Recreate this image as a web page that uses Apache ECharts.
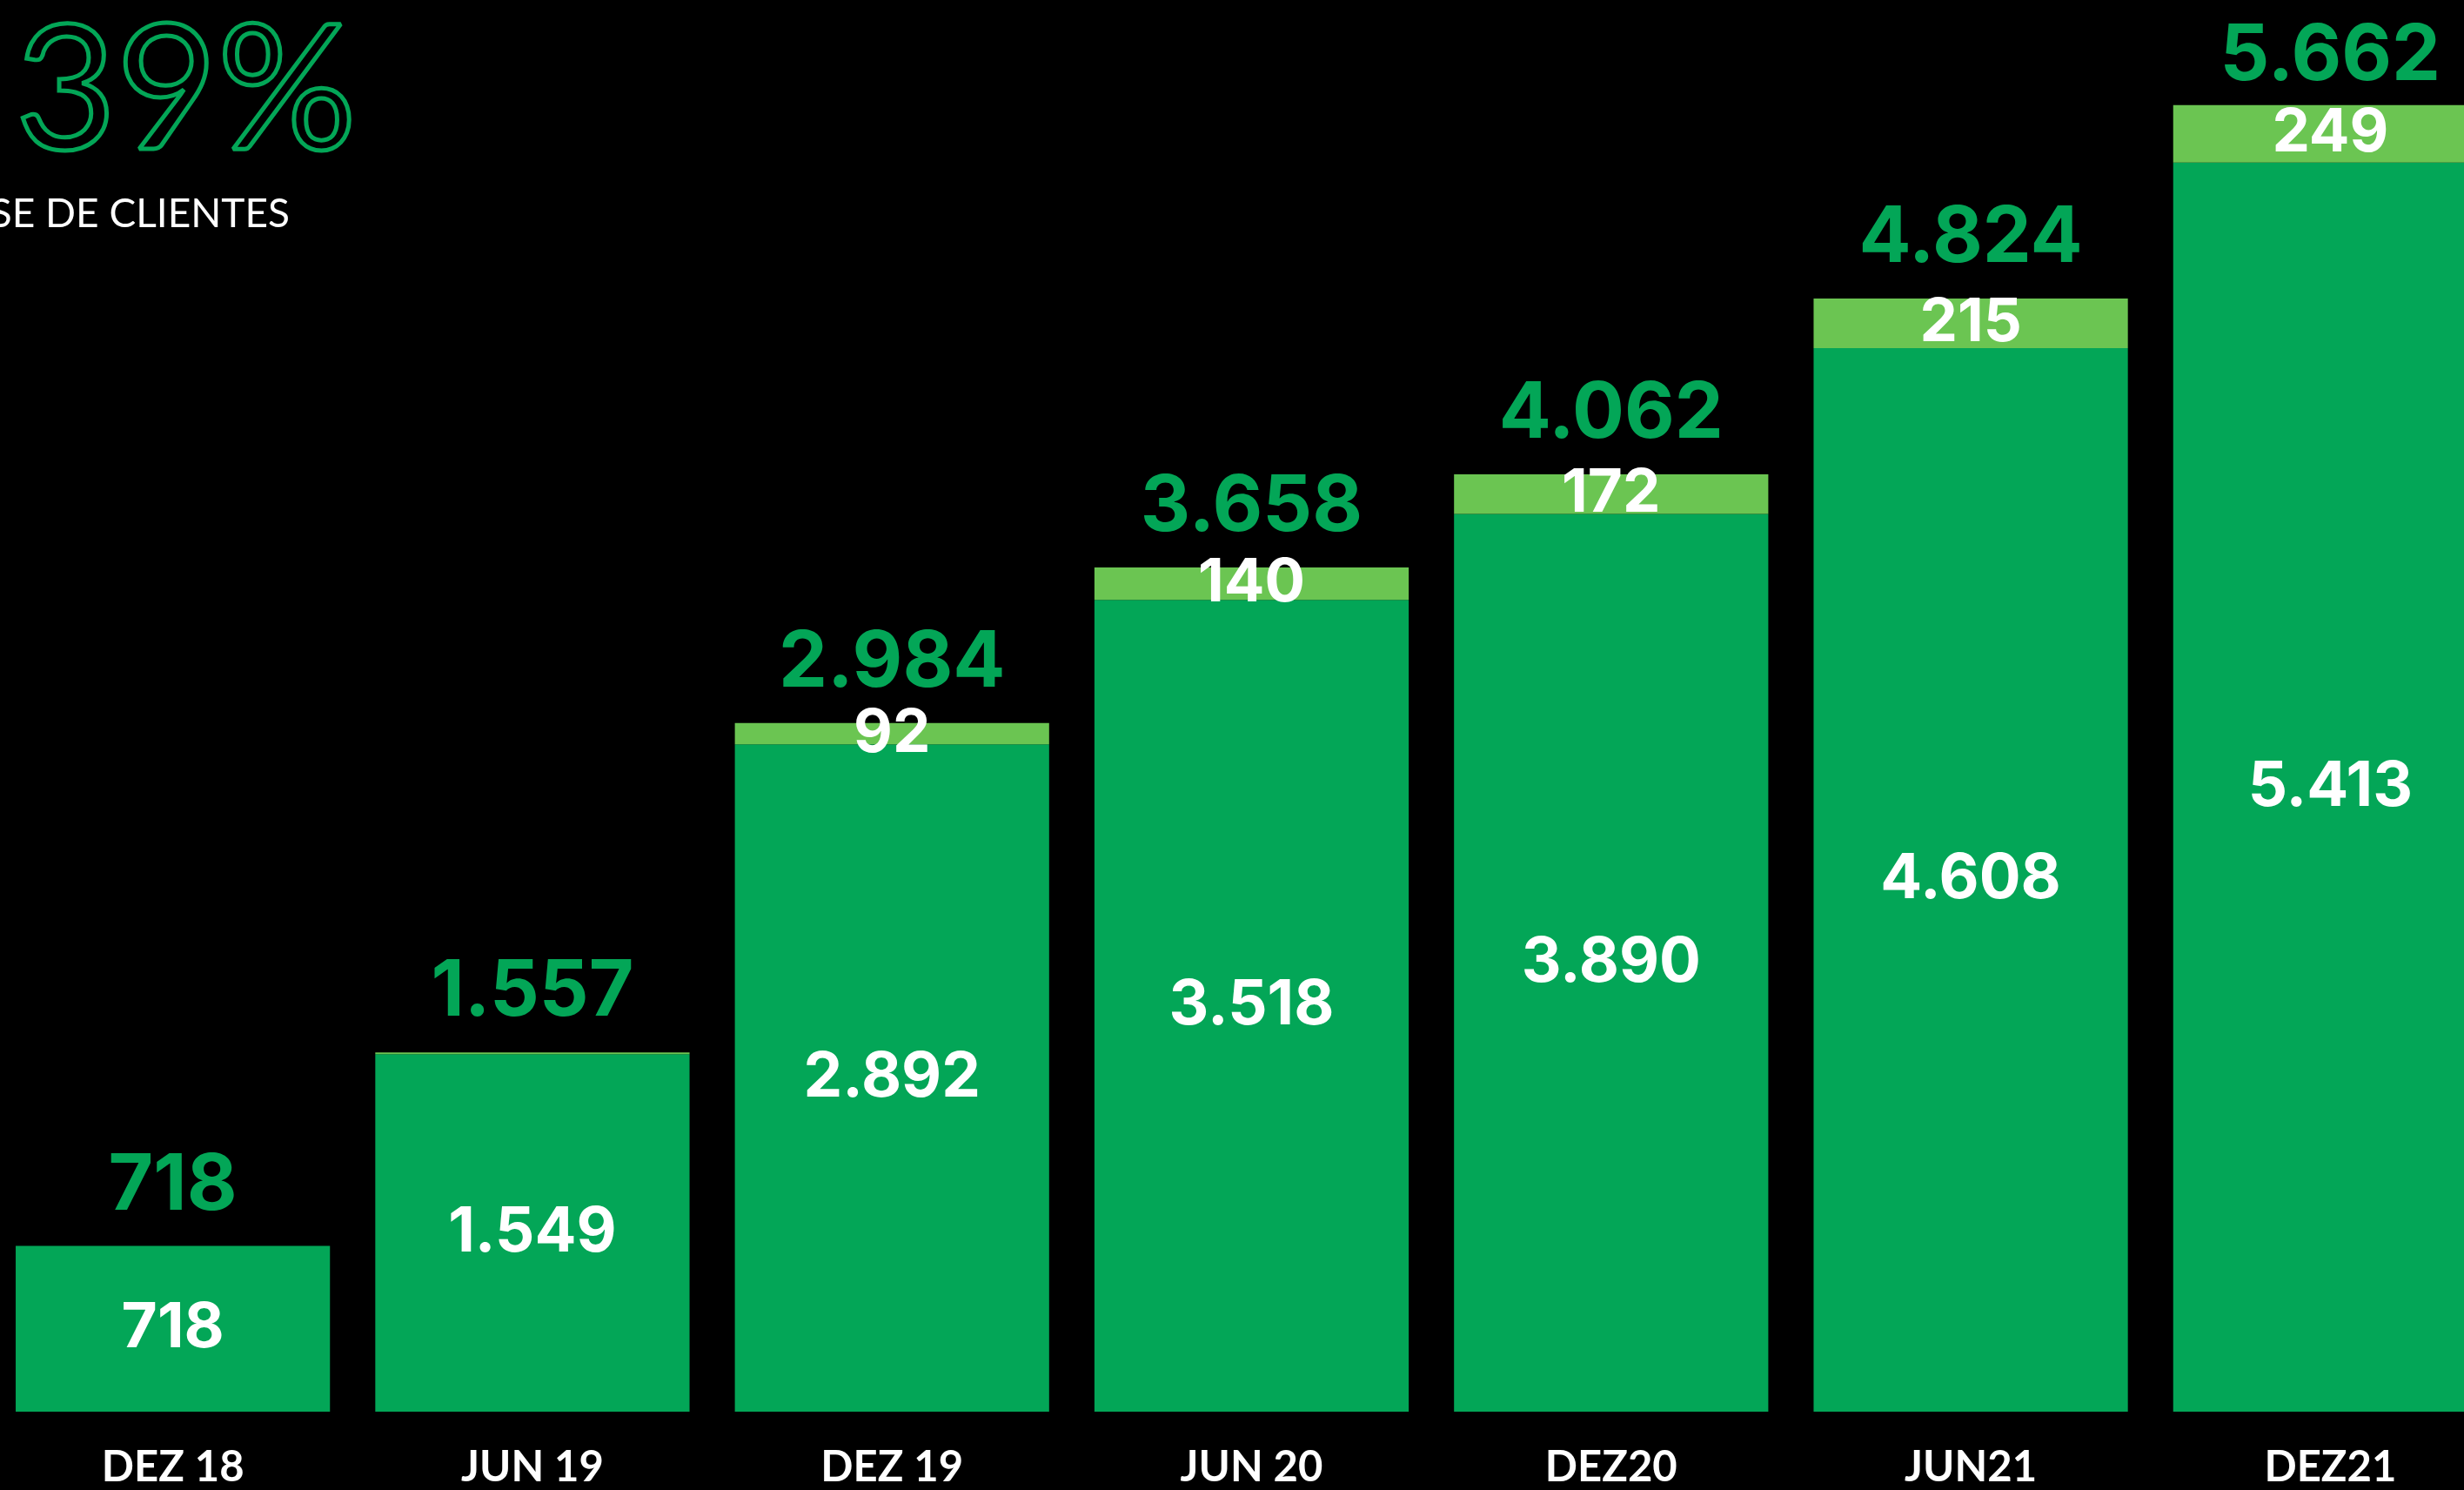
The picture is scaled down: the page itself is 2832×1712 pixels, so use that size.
<!DOCTYPE html>
<html>
<head>
    <meta charset="utf-8" />
    <title>Base de clientes</title>
    <script src="https://cdn.jsdelivr.net/npm/echarts@6/dist/echarts.min.js"></script>
    <style>
        html, body { margin: 0; padding: 0; background: #000; overflow: hidden; }
        #chart { position: absolute; left: -8px; top: 0; width: 2893px; height: 1712px; }
    </style>
</head>
<body>
    <div id="chart"></div>

    <script type="text/javascript">
        // dados
        var periodos = ['DEZ 18', 'JUN 19', 'DEZ 19', 'JUN 20', 'DEZ20', 'JUN21', 'DEZ21'];
        var base = [718, 1549, 2892, 3518, 3890, 4608, 5413];
        var novos = [0, 8, 92, 140, 172, 215, 249];
        var totais = [718, 1557, 2984, 3658, 4062, 4824, 5662];

        var verde = '#03A657';
        var verdeClaro = '#6BC552';
        var fonte = 'Lato, "Open Sans", sans-serif';
        var fonteNum = 'Inter, Lato, sans-serif';

        // separador de milhar com ponto
        function fmt(v) {
            return String(v).replace(/\B(?=(\d{3})+(?!\d))/g, '.');
        }

        var myChart = echarts.init(document.getElementById('chart'));

        myChart.setOption({
            backgroundColor: '#000',
            animation: false,
            grid: {
                left: 0,
                right: 0,
                top: 31,
                bottom: 90
            },
            xAxis: {
                type: 'category',
                data: periodos,
                axisLine: { show: false },
                axisTick: { show: false },
                axisLabel: {
                    color: '#fff',
                    fontFamily: fonte,
                    fontWeight: 'bold',
                    fontSize: 49,
                    lineHeight: 49,
                    margin: 40
                }
            },
            yAxis: {
                type: 'value',
                min: 0,
                max: 6000,
                show: false
            },
            series: [{
                name: 'base',
                type: 'bar',
                stack: 'total',
                barCategoryGap: '12.6%',
                barGap: '-100%',
                itemStyle: { color: verde },
                label: {
                    show: true,
                    position: 'inside',
                    color: '#fff',
                    fontFamily: fonteNum,
                    fontWeight: 'bold',
                    fontSize: 71,
                    formatter: function(p) { return fmt(p.value); }
                },
                data: base,
                z: 3
            }, {
                name: 'novos',
                type: 'bar',
                stack: 'total',
                barCategoryGap: '12.6%',
                barGap: '-100%',
                itemStyle: { color: verdeClaro },
                label: {
                    show: true,
                    position: 'inside',
                    color: '#fff',
                    fontFamily: fonteNum,
                    fontWeight: 'bold',
                    fontSize: 69,
                    formatter: function(p) { return p.value >= 50 ? fmt(p.value) : ''; }
                },
                data: novos,
                z: 3
            }, {
                // barra invisível só para o rótulo do total
                name: 'total',
                type: 'bar',
                barCategoryGap: '12.6%',
                barGap: '-100%',
                itemStyle: { color: 'rgba(0,0,0,0)' },
                label: {
                    show: true,
                    position: 'top',
                    distance: 24,
                    color: verde,
                    fontFamily: fonteNum,
                    fontWeight: 'bold',
                    fontSize: 89,
                    formatter: function(p) { return fmt(p.value); }
                },
                data: totais.map(function(v, i) {
                    // o último rótulo fica mais perto da barra
                    return i === totais.length - 1 ? { value: v, label: { distance: 11 } } : v;
                }),
                z: 1
            }],
            graphic: [{
                type: 'text',
                x: 418,
                y: 106,
                style: {
                    text: '39%',
                    align: 'right',
                    verticalAlign: 'middle',
                    font: 'normal 200px ' + fonte,
                    fill: 'rgba(0,0,0,0)',
                    stroke: verde,
                    lineWidth: 5
                }
            }, {
                type: 'text',
                x: 341,
                y: 246,
                style: {
                    text: 'BASE DE CLIENTES',
                    align: 'right',
                    verticalAlign: 'middle',
                    font: 'normal 46px ' + fonte,
                    fill: '#fff'
                }
            }]
        });
    </script>
</body>
</html>
